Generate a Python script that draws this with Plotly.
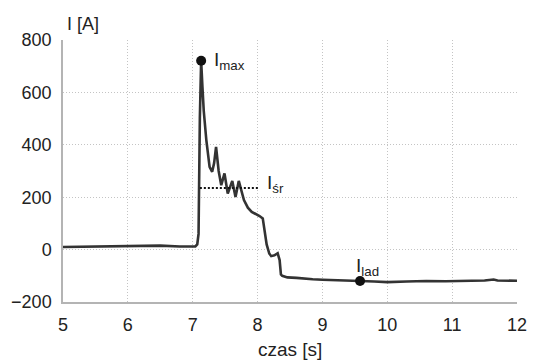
import plotly.graph_objects as go

# time [s] and current [A]
czas = [5.0, 5.3, 5.6, 5.7, 5.8, 6.1, 6.5, 6.8, 7.0, 7.04, 7.07, 7.09, 7.11, 7.13,
        7.15, 7.17, 7.21, 7.26, 7.30, 7.33, 7.36, 7.40, 7.44, 7.49, 7.54, 7.61, 7.66,
        7.71, 7.79, 7.85, 7.91, 7.97, 8.03, 8.08, 8.11, 8.14, 8.18, 8.21, 8.26, 8.31,
        8.34, 8.36, 8.38, 8.46, 8.6, 8.71, 8.85, 9.0, 9.2, 9.4, 9.58, 9.8, 10.0, 10.3,
        10.6, 10.9, 11.2, 11.5, 11.64, 11.7, 12.0]
prad = [10, 11, 12, 14, 12, 13, 15, 12, 10, 12, 20, 60, 500, 721,
        620, 530, 418, 316, 297, 330, 392, 300, 246, 291, 214, 262, 201,
        262, 189, 160, 144, 137, 128, 119, 60, 20, -15, -25, -22, -14,
        -40, -95, -100, -106, -108, -111, -113, -115, -116, -117, -120, -122, -124, -122,
        -120, -121, -119, -118, -114, -118, -119]

# characteristic points
imax_t, imax_v = [7.13], [721]
ilad_t, ilad_v = [9.58], [-120]
isr_t, isr_v = [7.11, 8.03], [235, 235]

font = "Liberation Sans, Arial, sans-serif"
txt = "#222222"

fig = go.Figure()
fig.add_trace(go.Scatter(x=czas, y=prad, mode="lines",
                         line=dict(color="#333333", width=2.6), showlegend=False))
fig.add_trace(go.Scatter(x=isr_t, y=isr_v, mode="lines",
                         line=dict(color="#111111", width=2, dash="2px,2px"), showlegend=False))
fig.add_trace(go.Scatter(x=imax_t + ilad_t, y=imax_v + ilad_v, mode="markers",
                         marker=dict(color="#111111", size=10), showlegend=False))

ann = [
    dict(x=7.30, y=721, text="I<sub>max</sub>", xanchor="left", yanchor="middle"),
    dict(x=8.12, y=250, text="I<sub>śr</sub>", xanchor="left", yanchor="middle"),
    dict(x=9.49, y=-66, text="I<sub>lad</sub>", xanchor="left", yanchor="middle"),
]
for a in ann:
    fig.add_annotation(**a, xref="x", yref="y", showarrow=False,
                       font=dict(family=font, size=19, color=txt))

fig.add_annotation(x=0.004, y=1.061, xref="paper", yref="paper", text="I [A]",
                   showarrow=False, xanchor="left", yanchor="middle",
                   font=dict(family=font, size=18, color=txt))
fig.add_annotation(x=0.5, y=-0.183, xref="paper", yref="paper", text="czas [s]",
                   showarrow=False, xanchor="center", yanchor="middle",
                   font=dict(family=font, size=19, color=txt))

axis_common = dict(showgrid=True, gridcolor="#c4c4c4", griddash="1px,2px", gridwidth=1,
                   zeroline=False, showline=True, linecolor="#b4b4b4", linewidth=1.5,
                   tickfont=dict(family=font, size=18, color=txt), ticks="")
fig.update_xaxes(range=[5, 12], dtick=1, tick0=5, ticklabelstandoff=6, **axis_common)
fig.update_yaxes(range=[-200, 800], dtick=200, tick0=-200, ticklabelstandoff=6, **axis_common)

fig.update_layout(width=538, height=362, margin=dict(l=57, r=11, t=40, b=60),
                  plot_bgcolor="white", paper_bgcolor="white")
fig.write_html("out.html")
